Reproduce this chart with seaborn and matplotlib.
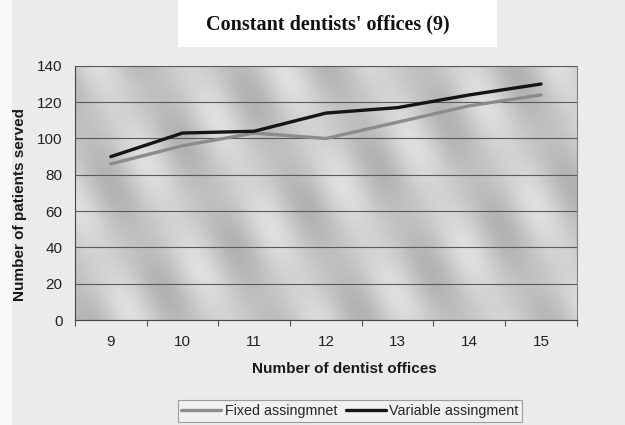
import numpy as np
import pandas as pd
import matplotlib
matplotlib.use("Agg")
import matplotlib.pyplot as plt
import seaborn as sns

offices = [9, 10, 11, 12, 13, 14, 15]
fixed_served = [86, 96, 103, 100, 109, 118, 124]
variable_served = [90, 103, 104, 114, 117, 124, 130]
series_names = ["Fixed assingmnet", "Variable assingment"]
y_ticks = [0, 20, 40, 60, 80, 100, 120, 140]

df = pd.DataFrame({
    "offices": offices * 2,
    "served": fixed_served + variable_served,
    "series": [series_names[0]] * len(offices) + [series_names[1]] * len(offices),
})

sns.set_theme(style="white")
plt.rcParams["font.family"] = ["Liberation Sans", "DejaVu Sans"]

fig = plt.figure(figsize=(6.25, 4.25), dpi=100, facecolor="#ebebeb")
ax = fig.add_axes([0.12, 0.247, 0.803, 0.598])

# shaded plot-area backdrop with diagonal banding
h, w = 254, 502
yy, xx = np.mgrid[0:h, 0:w]
phase = 2 * np.pi * (xx - 0.5 * yy) / 92.0
along = 2 * np.pi * (yy + 0.6 * xx) / 140.0
shade = 0.785 + 0.062 * np.sin(phase) + 0.025 * np.sin(phase) * np.cos(along)
ax.imshow(shade, extent=(8.5, 15.5, 0, 140), aspect="auto", cmap="gray",
          vmin=0, vmax=1, zorder=0, interpolation="bilinear")

palette = {series_names[0]: "#8c8c8c", series_names[1]: "#151515"}
sns.lineplot(data=df, x="offices", y="served", hue="series", palette=palette,
             linewidth=2.4, ax=ax, legend=False, zorder=3)

ax.set_xlim(8.5, 15.5)
ax.set_ylim(0, 140)
ax.set_yticks(y_ticks)
ax.set_xticks(offices)
ax.set_xticks([o - 0.5 for o in offices] + [offices[-1] + 0.5], minor=True)
ax.tick_params(axis="x", which="major", length=0, pad=11, labelsize=11, colors="#222222")
ax.tick_params(axis="x", which="minor", length=4, width=0.8, color="#555555",
               direction="out", bottom=True)
ax.tick_params(axis="y", which="major", length=4, width=0.8, color="#555555",
               direction="out", pad=5, labelsize=11, colors="#222222")

ax.yaxis.grid(True, color="#5a5a5a", linewidth=0.8, zorder=1)
ax.set_axisbelow(False)
for side, sp in ax.spines.items():
    sp.set_color("#808080")
    sp.set_linewidth(0.8)
ax.spines["left"].set_color("#444444")
ax.spines["bottom"].set_color("#444444")

ax.set_xlabel("Number of dentist offices", fontsize=11, fontweight="bold",
              color="#1a1a1a")
ax.set_ylabel("Number of patients served", fontsize=11, fontweight="bold",
              color="#1a1a1a")
ax.xaxis.set_label_coords(0.536, -0.193)
ax.yaxis.set_label_coords(-0.11, 0.453)
ax.xaxis.label.set_va("center")
ax.yaxis.label.set_va("center")

# white strip along the left page edge
fig.patches.append(plt.Rectangle((0, 0), 12 / 625, 1, transform=fig.transFigure,
                                 facecolor="#fafafa", edgecolor="none", zorder=0))
# title on a white panel
fig.patches.append(plt.Rectangle((178 / 625, 1 - 47 / 425), 319 / 625, 47 / 425,
                                 transform=fig.transFigure, facecolor="white",
                                 edgecolor="none", zorder=0))
fig.text(328 / 625, 1 - 24 / 425, "Constant dentists' offices (9)",
         family=["Liberation Serif", "DejaVu Serif"], fontweight="bold",
         fontsize=14.5, ha="center", va="center", color="#111111")

handles = [plt.Line2D([], [], color=palette[n], linewidth=2.4) for n in series_names]
leg = fig.legend(handles, series_names, loc="center", ncol=2,
                 bbox_to_anchor=(350 / 625, 1 - 411 / 425), frameon=True,
                 fontsize=10.3, handlelength=2.8, handletextpad=0.25, columnspacing=0.6,
                 borderpad=0.25, fancybox=False)
leg.get_frame().set_edgecolor("#888888")
leg.get_frame().set_facecolor("#f2f2f2")
leg.get_frame().set_linewidth(0.8)

fig.savefig("out.png", dpi=100, facecolor=fig.get_facecolor())
